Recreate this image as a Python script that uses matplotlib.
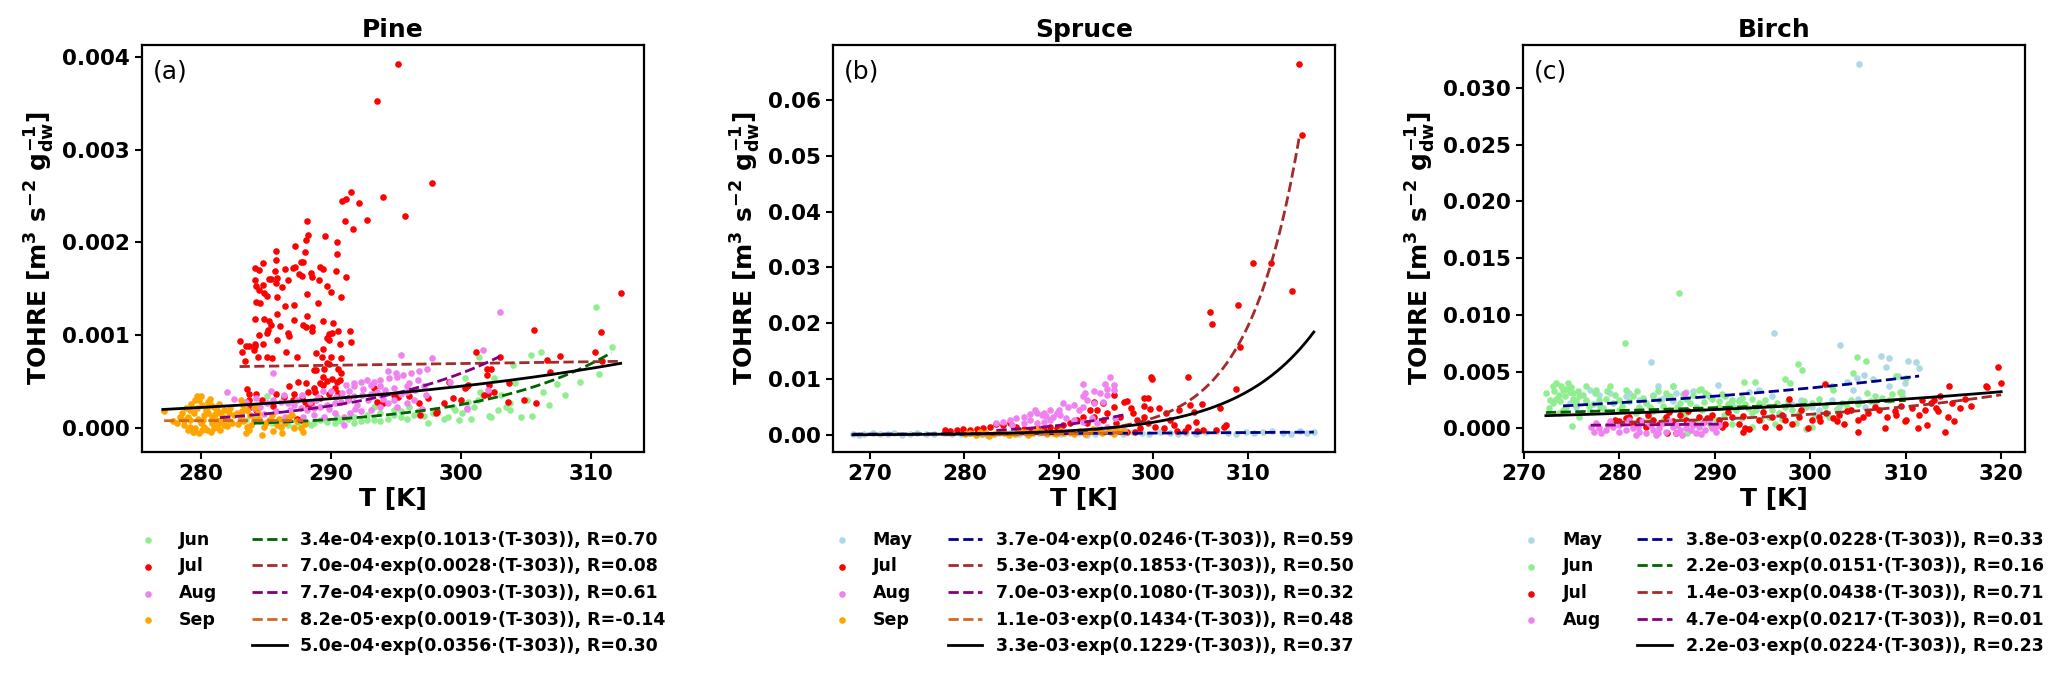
import numpy as np
import matplotlib
matplotlib.use('Agg')
import matplotlib.pyplot as plt
from matplotlib.lines import Line2D

plt.rcParams['font.family'] = 'DejaVu Sans'
plt.rcParams['font.weight'] = 'bold'
plt.rcParams['axes.labelweight'] = 'bold'
plt.rcParams['axes.titleweight'] = 'bold'
plt.rcParams['mathtext.fontset'] = 'dejavusans'

# ---------------- Pine (values in 1e-3 m3 s-2 g-1) ----------------
pine_jun = [(310.4,1.30),(311.6,0.87),(310.6,0.58),(309.2,0.49),(307.4,0.47),(306.3,0.39),(306.2,0.82),(305.4,0.79),
            (305.5,0.13),(303.8,0.19),(304.0,0.68),(304.2,0.48),(303.5,0.23),(302.3,0.12),(302.2,0.13),(301.5,0.39),
            (301.7,0.34),(301.4,0.77),(300.3,0.54),(300.8,0.10),(300.1,0.16),(299.6,0.19),(299.4,0.23),(298.7,0.10),
            (297.9,0.16),(297.2,0.13),(296.4,0.14),(295.9,0.10),(295.4,0.12),(294.9,0.14),(294.4,0.10),(293.8,0.07),
            (293.3,0.09),(292.8,0.09),(292.3,0.07),(291.8,0.05),(291.3,0.10),(290.8,0.07),(290.3,0.05),(289.7,0.06),
            (289.2,0.09),(288.7,0.05),(288.2,0.05),(287.7,0.01),(287.2,0.01),(286.7,0.03),(286.2,0.05),(285.1,0.34),
            (285.4,0.09),(284.6,0.07),(284.1,0.07),(293.3,0.23),(294.9,0.19),(296.0,0.23),(296.7,0.18),(298.2,0.19),
            (303.8,0.27),(305.1,0.30),(302.6,0.54),(301.0,0.23),(301.3,0.30),(291.8,0.12),(292.8,0.14),(293.8,0.16),
            (295.4,0.18),(302.9,0.19),(299.0,0.12),(297.5,0.05),(299.9,0.08),(300.6,0.28),(303.1,0.35),(304.6,0.12),
            (306.8,0.25),(308.0,0.35),(285.5,0.05),(286.5,0.08),(287.5,0.06),(288.5,0.03),(289.5,0.10),(290.5,0.12),
            (283.5,0.08),(284.3,0.12)]
pine_jul = [(295.2,3.93),(293.6,3.53),(297.8,2.64),(294.0,2.49),(295.7,2.29),(291.6,2.54),(290.9,2.45),(291.2,2.47),
            (292.2,2.43),(292.8,2.24),(291.1,2.23),(291.7,2.14),(288.2,2.23),(288.3,2.08),(288.1,2.03),(287.3,1.96),
            (288.0,1.90),(289.6,2.07),(290.5,2.01),(290.5,1.88),(290.4,1.69),(291.2,1.63),(290.8,1.41),(285.8,1.91),
            (285.8,1.81),(284.8,1.78),(284.2,1.72),(284.5,1.70),(286.5,1.71),(287.1,1.72),(287.3,1.74),(287.9,1.79),
            (287.7,1.79),(285.7,1.69),(285.3,1.61),(285.4,1.61),(284.2,1.60),(284.3,1.53),(284.5,1.49),(285.9,1.62),
            (285.8,1.56),(286.7,1.60),(287.6,1.66),(287.8,1.64),(288.5,1.67),(288.6,1.63),(289.2,1.74),(289.4,1.71),
            (289.1,1.59),(289.7,1.53),(290.0,1.47),(288.2,1.44),(286.3,1.52),(284.8,1.54),(284.9,1.45),(285.1,1.42),
            (284.3,1.36),(284.6,1.35),(285.9,1.41),(286.5,1.31),(287.2,1.33),(289.0,1.35),(284.2,1.18),(284.9,1.17),
            (285.3,1.15),(285.4,1.11),(284.5,1.00),(285.1,1.02),(285.2,1.06),(285.9,1.23),(286.1,1.10),(286.7,1.02),
            (286.8,0.99),(287.2,1.16),(287.9,1.11),(288.1,1.09),(288.2,1.21),(288.6,1.09),(288.6,1.04),(289.4,1.15),
            (290.2,1.13),(289.9,1.01),(290.1,1.02),(289.7,0.97),(289.9,0.95),(290.6,1.04),(290.7,0.91),(291.5,1.05),
            (291.6,0.93),(285.9,0.95),(283.0,0.94),(283.5,0.88),(283.7,0.88),(284.2,0.91),(284.2,0.88),(284.8,0.90),
            (284.1,0.84),(283.2,0.82),(285.1,0.76),(285.5,0.75),(284.4,0.77),(283.4,0.72),(286.6,0.82),(287.4,0.77),
            (288.9,0.81),(289.4,0.85),(289.3,0.77),(290.0,0.76),(290.8,0.75),(289.7,0.70),(289.9,0.69),(288.7,0.62),
            (288.9,0.62),(289.5,0.63),(290.6,0.64),(290.8,0.59),(289.4,0.55),(289.7,0.51),(290.1,0.53),(290.5,0.50),
            (290.7,0.52),(289.2,0.48),(289.4,0.46),(287.5,0.50),(288.1,0.48),(286.8,0.45),(288.7,0.43),(288.8,0.39),
            (288.3,0.39),(290.3,0.43),(283.6,0.42),(283.7,0.37),(284.3,0.37),(283.7,0.30),(285.8,0.37),(286.4,0.33),
            (287.2,0.37),(287.8,0.32),(288.0,0.28),(288.3,0.24),(288.5,0.27),(289.2,0.32),(289.9,0.37),(290.6,0.38),
            (291.3,0.32),(284.7,0.30),(285.6,0.24),(283.8,0.23),(284.3,0.19),(287.1,0.30),(287.4,0.10),(287.7,0.08),
            (293.3,0.43),(293.6,0.28),(294.0,0.27),(294.9,0.36),(295.2,0.33),(296.0,0.34),(296.8,0.27),(297.5,0.32),
            (296.9,0.14),(298.1,0.16),(298.7,0.27),(299.1,0.50),(299.4,0.32),(300.0,0.30),(300.3,0.43),(300.5,0.45),
            (300.6,0.46),(301.2,0.82),(302.0,0.64),(302.3,0.64),(302.0,0.57),(302.2,0.46),(302.6,0.39),(302.1,0.37),
            (301.8,0.36),(303.0,0.77),(303.7,0.48),(303.6,0.28),(304.9,0.30),(305.8,0.27),(305.6,1.06),(306.9,0.60),
            (306.6,0.73),(307.6,0.78),(310.3,0.82),(310.8,1.03),(312.3,1.46),(310.9,0.72),(298.2,0.17)]
pine_aug = [(303.0,1.25),(301.7,0.84),(300.5,0.20),(297.8,0.75),(295.4,0.79),(297.4,0.63),(296.8,0.61),(296.2,0.59),
            (295.6,0.57),(295.1,0.55),(294.5,0.54),(293.8,0.52),(293.3,0.50),(292.8,0.52),(292.3,0.50),(291.8,0.48),
            (291.2,0.46),(297.2,0.45),(296.5,0.41),(295.9,0.39),(295.4,0.37),(294.9,0.43),(294.2,0.41),(293.6,0.39),
            (293.1,0.37),(292.4,0.36),(291.8,0.34),(291.3,0.30),(290.8,0.28),(290.3,0.27),(289.7,0.25),(289.2,0.23),
            (288.7,0.21),(288.2,0.19),(287.7,0.21),(287.2,0.25),(286.7,0.27),(286.2,0.28),(285.6,0.30),(285.1,0.27),
            (284.6,0.23),(284.1,0.21),(283.6,0.19),(283.1,0.16),(282.0,0.39),(282.6,0.31),(285.6,0.59),(296.4,0.30),
            (295.9,0.27),(295.1,0.23),(294.4,0.27),(293.8,0.23),(293.1,0.19),(292.3,0.18),(291.5,0.16),(291.0,0.12),
            (290.3,0.16),(289.5,0.12),(288.7,0.14),(291.0,0.03),(299.2,0.50),(302.1,0.41),(291.8,0.45),(293.1,0.46),
            (293.8,0.45),(294.4,0.61),(295.0,0.59),(296.7,0.52),(297.3,0.36),(300.5,0.21),(286.5,0.12),(287.8,0.35),
            (289.0,0.33),(290.0,0.40),(292.0,0.25),(294.0,0.31),(296.0,0.48),(297.0,0.20),(284.9,0.15),(285.8,0.18),
            (286.9,0.19),(287.9,0.12),(288.9,0.30),(289.9,0.20),(290.9,0.38),(291.9,0.20),(292.9,0.30),(293.9,0.35),
            (294.9,0.30),(295.9,0.45),(292.5,0.42),(291.4,0.40),(290.4,0.33),(289.4,0.40),(288.4,0.28),(287.4,0.30),
            (286.4,0.35),(285.4,0.40),(283.5,0.28),(284.3,0.32)]
pine_sep = [(277.2,0.18),(277.9,0.07),(278.2,0.05),(278.7,0.03),(279.2,0.01),(279.5,-0.04),(279.2,0.09),(279.5,0.16),
            (279.7,0.21),(279.7,0.34),(279.9,0.30),(280.1,0.25),(280.4,0.19),(280.6,0.16),(280.9,0.12),(281.2,0.09),
            (281.4,0.05),(280.0,0.05),(280.3,0.01),(280.5,-0.02),(280.8,-0.04),(281.0,0.00),(281.3,0.01),(281.5,-0.02),
            (281.8,0.03),(281.7,0.12),(281.0,0.23),(281.3,0.19),(281.5,0.16),(280.5,0.21),(280.8,0.25),(280.3,0.14),
            (279.2,0.19),(279.0,0.12),(278.7,0.09),(279.4,-0.04),(279.6,0.00),(280.1,-0.02),(282.1,0.09),(282.4,0.05),
            (283.1,0.30),(283.3,0.25),(283.6,0.19),(283.1,0.12),(283.3,0.07),(283.6,0.01),(283.8,0.14),(284.1,0.09),
            (283.5,-0.06),(283.7,-0.02),(284.2,0.23),(284.4,0.16),(284.5,0.10),(284.7,-0.08),(284.9,0.01),(285.0,0.05),
            (285.3,0.09),(285.5,0.14),(285.9,0.03),(286.2,0.01),(286.5,0.05),(286.7,0.09),(286.8,0.12),(287.2,0.00),
            (287.7,0.00),(287.9,-0.04),(281.8,0.19),(282.2,0.16),(282.6,0.14),(279.6,0.30),(280.0,0.34),(282.8,0.16),
            (283.2,0.18),(278.4,0.12),(278.9,0.22),(279.3,0.26),(279.8,0.10),(280.2,0.08),(280.6,0.28),(280.9,0.05),
            (281.1,0.15),(281.6,0.08),(282.0,0.02),(282.3,0.22),(279.0,-0.02),(279.9,-0.06),(280.7,0.31),(281.4,0.26),
            (278.6,0.16),(282.9,0.04),(283.9,0.03),(285.6,-0.03),(286.0,0.10),(287.0,0.14),(286.3,-0.06),(287.4,0.07),
            (288.0,0.04)]
pine_fit_a = [3.4e-4, 7.0e-4, 7.7e-4, 8.2e-5, 5.0e-4]
pine_fit_b = [0.1013, 0.0028, 0.0903, 0.0019, 0.0356]
pine_fit_r = [0.70, 0.08, 0.61, -0.14, 0.30]
pine_fit_range = [(284.1, 311.6), (283.0, 312.3), (281.5, 303.0), (277.2, 287.9), (277.1, 312.3)]

# ---------------- Spruce ----------------
spruce_may = [(268.2,0.0001),(269.4,0.0002),(271.1,0.0001),(272.6,0.0003),(274.2,0.0001),(275.9,0.0002),(277.8,0.0003),
              (279.6,0.0001),(281.5,0.0002),(283.7,0.0004),(285.8,0.0002),(287.9,0.0003),(290.2,0.0001),(292.1,0.0004),
              (293.8,0.0002),(295.7,0.0003),(297.9,0.0005),(299.6,0.0002),(301.8,0.0004),(303.5,0.0003),(305.6,0.0005),
              (307.9,0.0004),(309.8,0.0006),(311.6,0.0005),(313.7,0.0004),(315.5,0.0007),(317.0,0.0006),
              (268.8,0.0000),(270.3,0.0003),(271.9,0.0002),(273.4,0.0000),(275.0,0.0003),(276.8,0.0001),(278.7,0.0002),
              (280.6,0.0004),(282.4,0.0000),(284.7,0.0003),(286.8,0.0001),(288.9,0.0005),(291.2,0.0003),(293.0,0.0000),
              (294.8,0.0005),(296.8,0.0001),(298.8,0.0003),(300.7,0.0006),(302.6,0.0001),(304.5,0.0002),(306.7,0.0007),
              (308.8,0.0002),(310.7,0.0003),(312.6,0.0008),(314.6,0.0002),(316.3,0.0004)]
spruce_jul = [(315.4,0.0664),(315.8,0.0537),(310.6,0.0308),(312.5,0.0308),(314.7,0.0258),(309.0,0.0233),(306.0,0.0221),
              (306.2,0.0198),(309.2,0.0157),(303.7,0.0104),(299.8,0.0103),(299.9,0.0101),(308.8,0.0082),(299.0,0.0067),
              (299.4,0.0067),(297.2,0.0061),(305.2,0.0055),(307.1,0.0048),(299.0,0.0052),(299.7,0.0046),(300.6,0.0048),
              (303.9,0.0054),(304.3,0.0042),(302.7,0.0045),(304.5,0.0024),(303.7,0.0015),(302.5,0.0008),(303.4,0.0008),
              (304.6,0.0008),(305.3,0.0009),(306.6,0.0009),(307.5,0.0015),(307.7,0.0018),(301.1,0.0012),(301.8,0.0027),
              (301.4,0.0039),(297.6,0.0048),(297.9,0.0039),(298.3,0.0027),(296.5,0.0033),(296.1,0.0021),(295.8,0.0051),
              (295.1,0.0039),(294.7,0.0027),(294.0,0.0045),(293.7,0.0033),(293.3,0.0045),(293.0,0.0021),(292.6,0.0033),
              (291.9,0.0027),(291.2,0.0021),(290.5,0.0018),(289.8,0.0012),(289.1,0.0015),(288.4,0.0009),(287.7,0.0012),
              (287.0,0.0009),(286.3,0.0010),(285.5,0.0015),(284.8,0.0021),(284.1,0.0018),(283.4,0.0020),(282.7,0.0015),
              (282.0,0.0012),(281.3,0.0010),(280.6,0.0009),(279.9,0.0010),(279.2,0.0009),(278.5,0.0008),(278.0,0.0009),
              (294.7,0.0057),(293.7,0.0060),(295.8,0.0072),(296.9,0.0060),(299.0,0.0033),(299.4,0.0021),(300.2,0.0015),
              (298.6,0.0012),(296.1,0.0009),(297.2,0.0006),(298.1,0.0006),(302.2,0.0018)]
spruce_aug = [(295.4,0.0103),(292.6,0.0091),(294.9,0.0092),(295.8,0.0089),(295.1,0.0083),(295.8,0.0080),(293.7,0.0078),
              (292.8,0.0076),(292.6,0.0069),(293.0,0.0063),(294.4,0.0075),(295.1,0.0072),(294.7,0.0060),(293.7,0.0057),
              (290.5,0.0058),(291.0,0.0051),(291.6,0.0054),(292.6,0.0051),(292.1,0.0044),(289.1,0.0044),(288.4,0.0040),
              (287.7,0.0039),(287.0,0.0038),(286.3,0.0033),(285.5,0.0030),(284.8,0.0027),(284.1,0.0024),(283.4,0.0021),
              (289.4,0.0033),(290.1,0.0036),(290.8,0.0030),(291.6,0.0027),(292.6,0.0024),(287.0,0.0027),(287.7,0.0021),
              (288.4,0.0024),(289.1,0.0027),(286.3,0.0021),(294.0,0.0021),(295.1,0.0015),(296.1,0.0012),(296.9,0.0009),
              (295.4,0.0006),(289.8,0.0039),(288.7,0.0034),(287.5,0.0045),(288.2,0.0036),(290.0,0.0045),(285.0,0.0018),
              (293.5,0.0030),(294.5,0.0010),(296.0,0.0030)]
spruce_sep = [(280.1,0.0002),(281.2,0.0000),(282.3,0.0003),(283.1,0.0001),(284.2,0.0004),(285.4,0.0002),(286.1,0.0005),
              (287.3,0.0003),(288.2,0.0006),(289.4,0.0004),(290.1,0.0007),(291.2,0.0005),(292.3,0.0008),(293.1,0.0006),
              (294.2,0.0009),(295.3,0.0007),(296.0,0.0012),(297.0,0.0005),(281.7,0.0005),(283.6,0.0006),(285.8,0.0008),
              (287.6,0.0010),(289.7,0.0002),(291.6,0.0001),(293.6,0.0011),(282.6,-0.0001),(286.7,0.0000),
              (280.6,0.0004),(281.9,0.0001),(284.7,0.0000),(286.5,0.0006),(288.8,0.0001),(290.6,0.0003),(292.8,0.0002),
              (294.6,0.0004),(295.8,0.0002),(296.6,0.0008)]
spruce_fit_a = [3.7e-4, 5.3e-3, 7.0e-3, 1.1e-3, 3.3e-3]
spruce_fit_b = [0.0246, 0.1853, 0.1080, 0.1434, 0.1229]
spruce_fit_r = [0.59, 0.50, 0.32, 0.48, 0.37]
spruce_fit_range = [(268.2, 317.0), (278.0, 315.5), (283.4, 296.9), (280.1, 297.0), (268.2, 317.0)]

# ---------------- Birch ----------------
birch_may = [(305.1,0.0321),(296.2,0.0084),(303.1,0.0073),(283.3,0.0058),(307.4,0.0064),(308.3,0.0062),(310.2,0.0059),
             (311.1,0.0058),(311.4,0.0053),(307.9,0.0054),(305.6,0.0047),(304.9,0.0044),(306.6,0.0043),(308.2,0.0037),
             (309.2,0.0046),(303.8,0.0041),(304.5,0.0034),(305.0,0.0026),(299.0,0.0025),(299.1,0.0016),(298.1,0.0021),
             (293.6,0.0032),(294.6,0.0034),(296.0,0.0028),(290.3,0.0038),(287.7,0.0033),(287.0,0.0032),(285.9,0.0031),
             (284.9,0.0028),(284.0,0.0037),(283.5,0.0029),(281.0,0.0031),(280.7,0.0028),(279.0,0.0031),(277.9,0.0029),
             (276.9,0.0034),(276.5,0.0025),(274.8,0.0022),(275.5,0.0019),(289.4,0.0028),(291.8,0.0024),(292.5,0.0025),
             (309.6,0.0032),(309.9,0.0040),(302.3,0.0025),(303.0,0.0019),(305.7,0.0019),(306.8,0.0022),(300.2,0.0019),
             (300.9,0.0016),(282.1,0.0025),(282.8,0.0022),(284.5,0.0026),(285.6,0.0024)]
birch_jun = [(286.2,0.0119),(280.6,0.0075),(298.7,0.0057),(299.1,0.0051),(304.9,0.0063),(305.8,0.0059),(304.5,0.0049),
             (309.0,0.0046),(310.0,0.0044),(297.3,0.0043),(297.9,0.0040),(293.1,0.0041),(294.2,0.0041),(302.4,0.0034),
             (302.3,0.0037),(305.9,0.0031),(306.8,0.0028),(308.2,0.0025),(309.4,0.0032),(309.6,0.0028),(304.3,0.0025),
             (305.0,0.0021),(303.3,0.0022),(300.9,0.0026),(300.2,0.0022),(299.5,0.0019),(298.8,0.0013),(298.1,0.0016),
             (297.4,0.0019),(296.7,0.0013),(296.0,0.0016),(299.5,-0.0001),(300.2,0.0001),(296.3,0.0004),(295.3,0.0025),
             (294.6,0.0022),(293.9,0.0026),(293.2,0.0021),(292.5,0.0024),(291.8,0.0025),(291.1,0.0028),(290.4,0.0024),
             (289.7,0.0026),(289.0,0.0031),(288.3,0.0034),(287.7,0.0029),(287.0,0.0026),(286.3,0.0022),(285.6,0.0037),
             (284.9,0.0031),(284.2,0.0025),(283.5,0.0028),(282.8,0.0022),(282.1,0.0019),(281.4,0.0028),(280.7,0.0034),
             (280.0,0.0025),(279.3,0.0022),(278.6,0.0026),(277.9,0.0025),(277.2,0.0021),(276.5,0.0024),(275.8,0.0028),
             (275.1,0.0031),(274.6,0.0040),(274.4,0.0035),(274.1,0.0034),(273.7,0.0029),(273.4,0.0026),(273.0,0.0022),
             (272.7,0.0025),(272.3,0.0031),(274.8,0.0032),(275.1,0.0026),(275.5,0.0024),(274.4,0.0019),(274.1,0.0016),
             (273.7,0.0013),(275.0,0.0002),(275.8,0.0010),(276.9,0.0015),(278.3,0.0018),(280.0,0.0016),(281.7,0.0013),
             (283.5,0.0015),(285.2,0.0016),(287.0,0.0013),(288.7,0.0016),(290.4,0.0019),(292.2,0.0016),(293.9,0.0013),
             (295.7,0.0010),(290.1,0.0007),(291.8,0.0004),(293.9,0.0001),(287.1,-0.0004),(273.0,0.0037),(273.4,0.0040),
             (273.9,0.0037),(276.5,0.0037),(277.6,0.0034),(279.0,0.0037),(285.6,0.0037),(288.5,0.0035),
             (272.6,0.0018),(273.2,0.0033),(273.8,0.0024),(274.3,0.0028),(274.9,0.0036),(275.3,0.0021),(275.7,0.0033),
             (276.2,0.0029),(276.8,0.0020),(277.4,0.0031),(278.0,0.0019),(278.7,0.0033),(279.5,0.0029),(280.3,0.0020),
             (281.0,0.0024),(281.8,0.0033),(282.5,0.0027),(283.2,0.0019),(284.0,0.0033),(284.6,0.0020),(285.3,0.0028),
             (286.0,0.0019),(286.7,0.0030),(287.4,0.0022),(288.0,0.0019),(288.9,0.0023),(289.3,0.0029),(290.7,0.0030),
             (291.4,0.0021),(292.0,0.0019),(292.8,0.0027),(293.5,0.0018),(294.3,0.0016),(295.0,0.0020),(296.5,0.0022),
             (297.7,0.0024),(299.3,0.0024),(301.5,0.0020),(302.8,0.0017),(303.8,0.0019),(306.3,0.0024),(307.5,0.0027),
             (308.6,0.0030),(283.0,0.0010),(284.7,0.0008),(286.6,0.0009),(288.1,0.0006),(289.5,0.0003),(291.0,0.0012),
             (292.8,0.0009),(294.8,0.0007),(297.0,0.0008),(298.5,0.0005),(300.5,0.0012),(302.0,0.0010)]
birch_jul = [(319.7,0.0054),(320.0,0.0040),(318.4,0.0037),(318.5,0.0036),(314.5,0.0037),(301.5,0.0039),(297.8,0.0026),
             (313.6,0.0028),(313.0,0.0025),(312.7,0.0022),(313.2,0.0018),(313.4,0.0015),(311.7,0.0025),(310.7,0.0018),
             (311.4,0.0012),(310.0,0.0007),(314.4,0.0010),(315.1,0.0006),(315.7,0.0018),(316.2,0.0026),(308.9,0.0015),
             (309.0,0.0012),(308.0,0.0010),(307.8,0.0000),(306.8,0.0019),(306.1,0.0013),(305.0,0.0007),(304.3,0.0016),
             (303.8,0.0015),(303.5,0.0004),(302.8,0.0006),(302.4,0.0009),(301.6,0.0013),(300.9,0.0010),(300.2,0.0007),
             (299.8,0.0000),(298.8,0.0010),(298.1,0.0004),(297.4,0.0007),(296.7,0.0001),(296.0,0.0010),(295.3,0.0001),
             (294.6,0.0007),(293.6,-0.0001),(292.9,-0.0003),(292.5,0.0004),(291.8,0.0010),(291.1,0.0004),(290.4,0.0007),
             (289.7,0.0012),(289.0,0.0006),(288.3,0.0010),(287.7,0.0004),(287.0,0.0007),(286.3,0.0012),(285.6,0.0006),
             (284.9,0.0010),(284.2,0.0004),(283.5,0.0007),(282.8,0.0001),(282.1,0.0007),(281.4,0.0004),(280.7,0.0009),
             (280.0,0.0006),(279.5,0.0007),(285.0,-0.0004),(285.9,-0.0004),(290.8,0.0001),(293.2,0.0000),(305.0,-0.0003),
             (309.9,0.0006),(311.3,0.0000),(312.2,0.0003),(314.1,-0.0003),(281.0,0.0010),(283.0,0.0012),(285.2,0.0014),
             (287.2,0.0015),(289.2,0.0009),(291.4,0.0014),(293.0,0.0011),(295.0,0.0014),(297.0,0.0012),(299.0,0.0016),
             (301.0,0.0006),(303.0,0.0012),(305.5,0.0010),(307.2,0.0016),(309.5,0.0020),(312.0,0.0016),(314.8,0.0022),
             (316.8,0.0020)]
birch_aug = [(277.0,0.00015),(277.9,0.0000),(278.6,-0.00015),(279.3,0.00015),(280.0,0.0003),(280.7,-0.00015),
             (281.4,0.0000),(282.1,-0.0003),(282.8,-0.00045),(283.5,-0.00015),(284.2,0.0000),(284.9,-0.0003),
             (285.6,0.00015),(286.3,-0.00015),(287.0,0.0000),(287.7,0.0003),(288.3,0.00015),(289.0,-0.00015),
             (289.7,0.0000),(290.4,0.0003),(277.6,0.00045),(279.0,0.0006),(281.0,0.00075),(283.1,0.00045),
             (285.2,0.0006),(287.3,0.00045),(289.4,0.0006),(278.1,-0.00045),(280.0,-0.0003),(281.7,-0.0006),
             (283.8,-0.0006),(285.9,-0.00045),(288.0,-0.0004),(290.1,-0.0003),(286.9,0.0031),
             (277.3,-0.0003),(278.8,0.0003),(280.4,0.00045),(281.9,0.00015),(283.3,0.0003),(284.6,0.00045),
             (286.0,0.0003),(287.5,-0.0002),(288.8,0.00045),(290.0,0.00015),(282.4,0.0006),(284.0,-0.00045),
             (286.6,-0.0006),(288.6,-0.0005)]
birch_fit_a = [3.8e-3, 2.2e-3, 1.4e-3, 4.7e-4, 2.2e-3]
birch_fit_b = [0.0228, 0.0151, 0.0438, 0.0217, 0.0224]
birch_fit_r = [0.33, 0.16, 0.71, 0.01, 0.23]
birch_fit_range = [(274.1, 311.4), (272.3, 310.0), (279.5, 320.0), (277.0, 290.4), (272.3, 320.0)]

fig = plt.figure(figsize=(20.67, 6.88), dpi=100)


def draw_panel(left, title, tag, months, groups, scale, sc_colors, fit_a, fit_b, fit_r, fit_range,
               line_colors, xlim, ylim, xticks, yticks, yfmt):
    ax = fig.add_axes([left, 0.343, 0.2429, 0.5916])
    sc_handles = []
    for m, g, c in zip(months, groups, sc_colors):
        arr = np.array(g)
        h = ax.scatter(arr[:, 0], arr[:, 1] * scale, s=14, color=c, label=m, zorder=2)
        sc_handles.append(h)
    line_handles = []
    for a, b, r, (t0, t1), c in zip(fit_a, fit_b, fit_r, fit_range, line_colors):
        tt = np.linspace(t0, t1, 200)
        ls = '-' if c == 'black' else '--'
        lab = f'{a:.1e}\u00b7exp({b:.4f}\u00b7(T-303)), R={r:.2f}'
        h, = ax.plot(tt, a * np.exp(b * (tt - 303)), ls, color=c, lw=2, label=lab, zorder=3)
        line_handles.append(h)
    ax.set_xlim(*xlim)
    ax.set_ylim(*ylim)
    ax.set_xticks(xticks)
    ax.set_yticks(yticks)
    ax.set_yticklabels([yfmt.format(v) for v in yticks])
    ax.tick_params(labelsize=15.5, width=1.5, length=5)
    for sp in ax.spines.values():
        sp.set_linewidth(1.6)
    ax.set_title(title, fontsize=18)
    ax.set_xlabel('T [K]', fontsize=18, labelpad=2)
    ax.set_ylabel(r'TOHRE [m$^{\mathbf{3}}$ s$^{\mathbf{-2}}$ g$_{\mathbf{dw}}^{\mathbf{-1}}$]', fontsize=18)
    ax.text(0.022, 0.935, tag, transform=ax.transAxes, fontsize=18, fontweight='normal', va='center')
    blank = Line2D([], [], linestyle='none')
    handles = sc_handles + [blank] + line_handles
    labels = months + [''] + [h.get_label() for h in line_handles]
    ax.legend(handles, labels, ncol=2, loc='upper center', bbox_to_anchor=(0.51, -0.155),
              frameon=False, prop={'weight': 'bold', 'size': 12.5}, scatterpoints=1,
              columnspacing=2.0, handletextpad=0.8, labelspacing=0.5)
    return ax


draw_panel(0.0687, 'Pine', '(a)', ['Jun', 'Jul', 'Aug', 'Sep'],
           [pine_jun, pine_jul, pine_aug, pine_sep], 1e-3,
           ['lightgreen', 'red', 'violet', 'orange'],
           pine_fit_a, pine_fit_b, pine_fit_r, pine_fit_range,
           ['darkgreen', 'brown', 'purple', 'chocolate', 'black'],
           (275.5, 314.1), (-0.00026, 0.00413), [280, 290, 300, 310],
           [0.0, 0.001, 0.002, 0.003, 0.004], '{:.3f}')

draw_panel(0.403, 'Spruce', '(b)', ['May', 'Jul', 'Aug', 'Sep'],
           [spruce_may, spruce_jul, spruce_aug, spruce_sep], 1.0,
           ['lightblue', 'red', 'violet', 'orange'],
           spruce_fit_a, spruce_fit_b, spruce_fit_r, spruce_fit_range,
           ['darkblue', 'brown', 'purple', 'chocolate', 'black'],
           (266.1, 319.25), (-0.00304, 0.0698), [270, 280, 290, 300, 310],
           [0.0, 0.01, 0.02, 0.03, 0.04, 0.05, 0.06], '{:.2f}')

draw_panel(0.7368, 'Birch', '(c)', ['May', 'Jun', 'Jul', 'Aug'],
           [birch_may, birch_jun, birch_jul, birch_aug], 1.0,
           ['lightblue', 'lightgreen', 'red', 'violet'],
           birch_fit_a, birch_fit_b, birch_fit_r, birch_fit_range,
           ['darkblue', 'darkgreen', 'brown', 'purple', 'black'],
           (269.9, 322.5), (-0.0021, 0.0338), [270, 280, 290, 300, 310, 320],
           [0.0, 0.005, 0.010, 0.015, 0.020, 0.025, 0.030], '{:.3f}')

fig.savefig('out.png', dpi=100)
